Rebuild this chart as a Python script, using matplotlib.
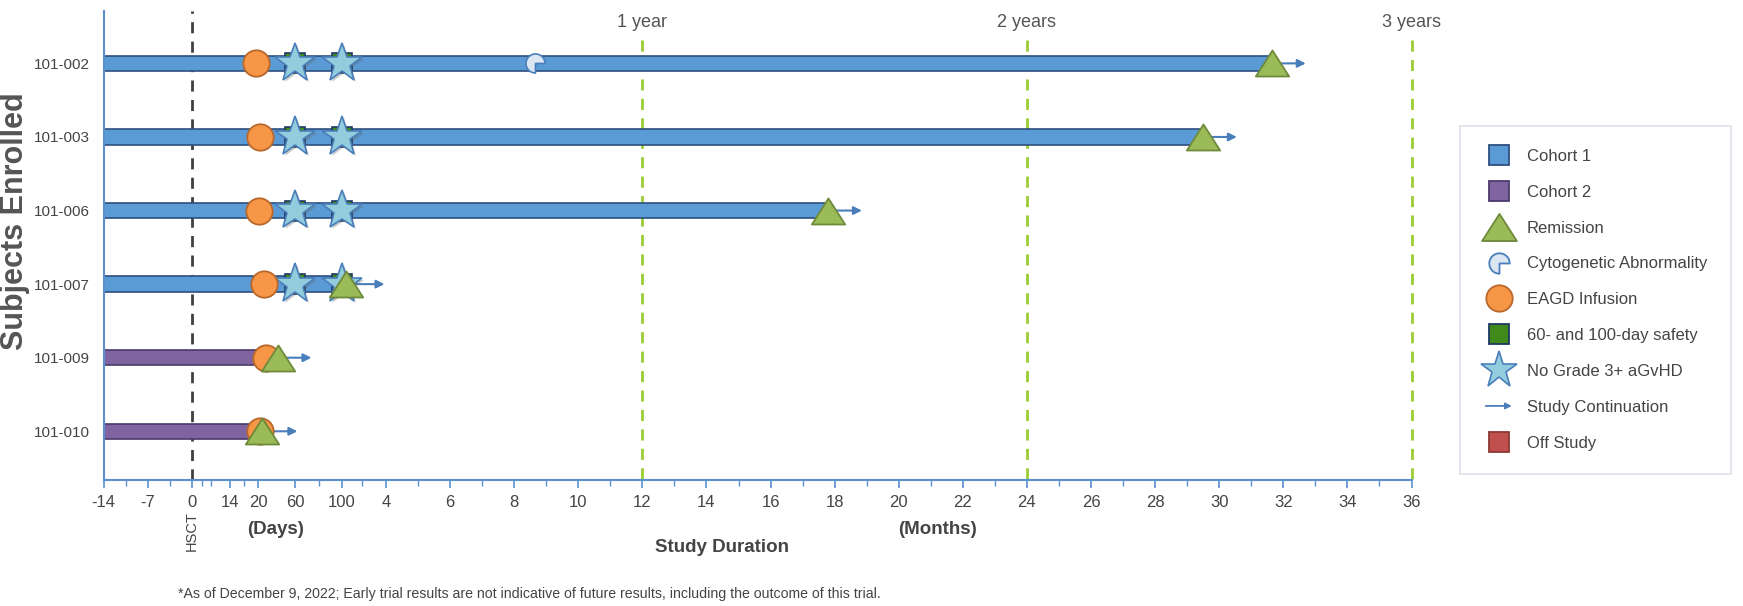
import numpy as np
import matplotlib
matplotlib.use("Agg")
import matplotlib.pyplot as plt
import matplotlib.patheffects as pe
from matplotlib.lines import Line2D
from matplotlib.path import Path
from matplotlib.patches import FancyArrowPatch
from matplotlib.legend_handler import HandlerPatch

plt.rcParams['font.family'] = ['Liberation Sans', 'DejaVu Sans']

MES = 30.4375  # dias por mes

# datos (dias desde el HSCT)
sujetos = ['101-002', '101-003', '101-006', '101-007', '101-009', '101-010']
cohorte = [1, 1, 1, 1, 2, 2]
fin_barra = [31.55 * MES, 29.45 * MES, 17.75 * MES, 100, 22, 20]
infusion = [19.5, 22, 21, 27, 28.5, 22]
remision = [31.65 * MES, 29.5 * MES, 17.8 * MES, 102, 41.5, 24.5]
continuacion = [32.7 * MES, 30.55 * MES, 18.85 * MES, 121, 74, 62]
dias_seguridad = [60, 100]
sujetos_seguridad = ['101-002', '101-003', '101-006', '101-007']
citogenetica_sujeto = '101-002'
citogenetica_mes = 8.65
anios = [1, 2, 3]
etiquetas_anios = ['1 year', '2 years', '3 years']

ticks_dias = [-14, -7, 0, 14, 20, 60, 100]
ticks_meses = list(range(4, 37, 2))

# eje x partido: dias al principio y meses despues
ancla_dias = [-14, 0, 14, 20, 60, 100, 4 * MES, 36 * MES]
ancla_pos = [103.5, 192.3, 230, 258, 295, 342, 386, 1411.5]


def adelante(x):
    return np.interp(x, ancla_dias, ancla_pos)


def atras(p):
    return np.interp(p, ancla_pos, ancla_dias)


class FlechaHandler(HandlerPatch):
    def create_artists(self, legend, orig_handle, xdescent, ydescent,
                       width, height, fontsize, trans):
        y = height / 2 - ydescent
        p = FancyArrowPatch((-xdescent, y), (width - xdescent, y),
                            arrowstyle='-|>', mutation_scale=9,
                            color='#4a7ebb', lw=1.3)
        p.set_transform(trans)
        return [p]


azul = '#5b9bd5'
azul_borde = '#2e4f7f'
morado = '#8064a2'
morado_borde = '#4b3a6b'
naranja = '#f79646'
naranja_borde = '#b8682d'
verde_tri = '#9bbb59'
verde_tri_borde = '#6e8a3a'
estrella = '#93cddd'
estrella_borde = '#4a7ebb'
gris = '#444444'

triangulo = Path([(-1, -0.78), (1, -0.78), (0, 0.78), (-1, -0.78)],
                 [Path.MOVETO, Path.LINETO, Path.LINETO, Path.CLOSEPOLY])
cuña = Path.wedge(0, 270)

W, H = 1743, 606
fig = plt.figure(figsize=(W / 100, H / 100), dpi=100)
ax = fig.add_axes([103.5 / W, (H - 480) / H, (1411.5 - 103.5) / W, 469 / H])
ax.set_xscale('function', functions=(adelante, atras))

filas = np.arange(len(sujetos))
for i in filas:
    color = azul if cohorte[i] == 1 else morado
    borde = azul_borde if cohorte[i] == 1 else morado_borde
    ax.barh(i, fin_barra[i] + 14, left=-14, height=0.21, color=color,
            edgecolor=borde, linewidth=1.2, zorder=2)
    ax.annotate('', xy=(continuacion[i], i), xytext=(remision[i], i),
                arrowprops=dict(arrowstyle='-|>', color='#4a7ebb', lw=1.5,
                                mutation_scale=12, shrinkA=0, shrinkB=0),
                zorder=2.5)

sombra = [pe.withSimplePatchShadow(offset=(1.5, -1.5), shadow_rgbFace='#666666', alpha=0.35)]
for s in sujetos_seguridad:
    i = sujetos.index(s)
    ax.plot(dias_seguridad, [i, i], ls='none', marker='s', ms=15,
            mfc='#3f8a1a', mec='#1f3864', mew=1.2, zorder=3)
    ax.plot(dias_seguridad, [i, i], ls='none', marker='*', ms=30,
            mfc=estrella, mec=estrella_borde, mew=1.2, zorder=4,
            path_effects=sombra)

ax.plot(infusion, filas, ls='none', marker='o', ms=19, mfc=naranja,
        mec=naranja_borde, mew=1.3, zorder=5)
ax.plot(remision, filas, ls='none', marker=triangulo, ms=24, mfc=verde_tri,
        mec=verde_tri_borde, mew=1.3, zorder=6)
ax.plot([citogenetica_mes * MES], [sujetos.index(citogenetica_sujeto)], ls='none',
        marker=cuña, ms=14, mfc='#dce6f2', mec='#4a7ebb', mew=1.2, zorder=5)

# linea del HSCT y lineas de años
ax.axvline(0, color='#404040', ls=(0, (4, 3)), lw=2, zorder=1)
for a, t in zip(anios, etiquetas_anios):
    ax.vlines(a * 12 * MES, -0.32, 5.7, color='#9acd32', ls=(0, (4, 3)), lw=2,
              zorder=1, clip_on=False)
    ax.text(a * 12 * MES, -0.56, t, ha='center', va='center', fontsize=13, color='#555555')

ax.set_xlim(-14, 36 * MES)
ax.set_ylim(5.662, -0.712)
ax.set_yticks(filas)
ax.set_yticklabels(sujetos, fontsize=11, color=gris)
ax.tick_params(axis='y', length=0, pad=10)

pos_ticks = ticks_dias + [m * MES for m in ticks_meses]
ax.set_xticks(pos_ticks)
ax.set_xticklabels([str(d) for d in ticks_dias] + [str(m) for m in ticks_meses],
                   fontsize=12, color=gris)
menores = [-10.5, -3.5, 3.5, 7, 17, 80, 110] + [m * MES for m in range(5, 36, 2)]
ax.set_xticks(menores, minor=True)
ax.tick_params(axis='x', which='major', length=6, width=1.2, color='#5b8fd0', pad=5)
ax.tick_params(axis='x', which='minor', length=4, width=1, color='#5b8fd0')

for lado in ['top', 'right']:
    ax.spines[lado].set_visible(False)
for lado in ['left', 'bottom']:
    ax.spines[lado].set_color('#5b8fd0')
    ax.spines[lado].set_linewidth(1.5)


def ft(x, y, s, **kw):
    fig.text(x / W, (H - y) / H, s, **kw)


ft(15, 221, 'Subjects Enrolled', rotation=90, ha='center', va='center',
   fontsize=22, fontweight='bold', color='#555555')
ft(192, 531, 'HSCT', rotation=90, ha='center', va='center', fontsize=10.5, color=gris)
ft(276, 529, '(Days)', ha='center', va='center', fontsize=13.5, fontweight='bold', color=gris)
ft(937, 529, '(Months)', ha='center', va='center', fontsize=13.5, fontweight='bold', color=gris)
ft(722, 547, 'Study Duration', ha='center', va='center', fontsize=13.5,
   fontweight='bold', color=gris)
ft(178, 594, '*As of December 9, 2022; Early trial results are not indicative of future '
   'results, including the outcome of this trial.', ha='left', va='center',
   fontsize=10.2, color=gris)

# leyenda
flecha = FancyArrowPatch((0, 0), (1, 0))
manejadores = [
    Line2D([], [], ls='none', marker='s', ms=15, mfc=azul, mec=azul_borde, mew=1.3),
    Line2D([], [], ls='none', marker='s', ms=15, mfc=morado, mec=morado_borde, mew=1.3),
    Line2D([], [], ls='none', marker=triangulo, ms=25, mfc=verde_tri, mec=verde_tri_borde, mew=1.3),
    Line2D([], [], ls='none', marker=cuña, ms=15, mfc='#dce6f2', mec='#4a7ebb', mew=1.3),
    Line2D([], [], ls='none', marker='o', ms=19, mfc=naranja, mec=naranja_borde, mew=1.3),
    Line2D([], [], ls='none', marker='s', ms=15, mfc='#3f8a1a', mec='#1f3864', mew=1.3),
    Line2D([], [], ls='none', marker='*', ms=28, mfc=estrella, mec=estrella_borde, mew=1.2),
    flecha,
    Line2D([], [], ls='none', marker='s', ms=15, mfc='#c0504d', mec='#8c3836', mew=1.3),
]
etiquetas = ['Cohort 1', 'Cohort 2', 'Remission', 'Cytogenetic Abnormality',
             'EAGD Infusion', '60- and 100-day safety', 'No Grade 3+ aGvHD',
             'Study Continuation', 'Off Study']
ley = fig.legend(manejadores, etiquetas, loc='upper left',
                 bbox_to_anchor=(1459.6 / W, (H - 125.6) / H),
                 handler_map={FancyArrowPatch: FlechaHandler()},
                 fontsize=12, labelcolor=gris, frameon=True, fancybox=False,
                 edgecolor='#d8d8e4', borderpad=1.4, labelspacing=1.25,
                 handlelength=1.9, handletextpad=0.75, borderaxespad=0)
ley.get_frame().set_linewidth(1.2)

fig.savefig('out.png', dpi=100)
